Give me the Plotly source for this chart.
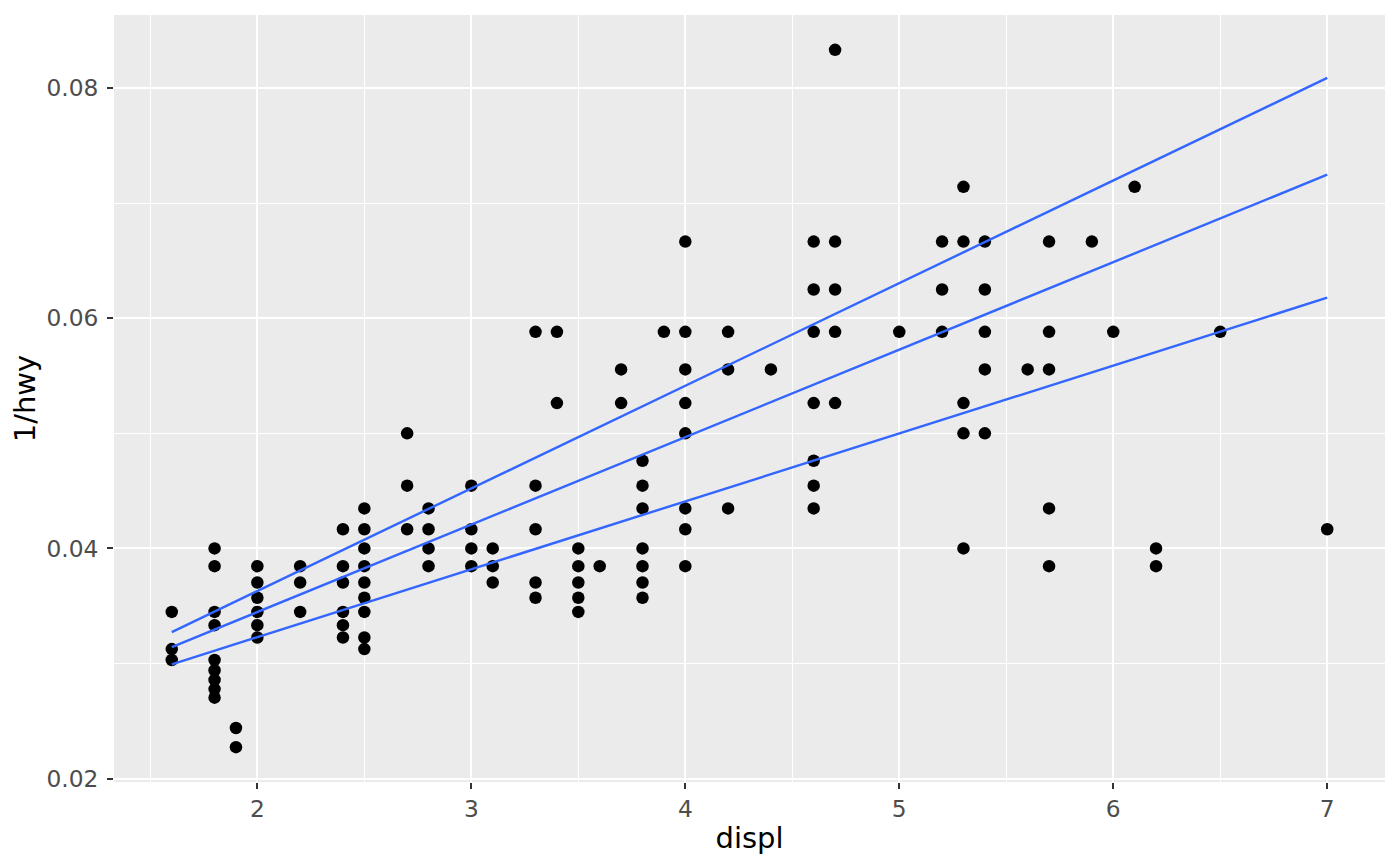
import plotly.graph_objects as go

# engine displacement (litres) and highway mpg, one entry per visible point
displ = [
    1.6, 1.6, 1.6,
    1.8, 1.8, 1.8, 1.8, 1.8, 1.8, 1.8, 1.8, 1.8,
    1.9, 1.9,
    2.0, 2.0, 2.0, 2.0, 2.0, 2.0,
    2.2, 2.2, 2.2,
    2.4, 2.4, 2.4, 2.4, 2.4, 2.4,
    2.5, 2.5, 2.5, 2.5, 2.5, 2.5, 2.5, 2.5, 2.5,
    2.7, 2.7, 2.7,
    2.8, 2.8, 2.8, 2.8,
    3.0, 3.0, 3.0, 3.0,
    3.1, 3.1, 3.1,
    3.3, 3.3, 3.3, 3.3, 3.3,
    3.4, 3.4,
    3.5, 3.5, 3.5, 3.5, 3.5,
    3.6,
    3.7, 3.7,
    3.8, 3.8, 3.8, 3.8, 3.8, 3.8, 3.8,
    3.9,
    4.0, 4.0, 4.0, 4.0, 4.0, 4.0, 4.0, 4.0,
    4.2, 4.2, 4.2,
    4.4,
    4.6, 4.6, 4.6, 4.6, 4.6, 4.6, 4.6,
    4.7, 4.7, 4.7, 4.7, 4.7,
    5.0,
    5.2, 5.2, 5.2,
    5.3, 5.3, 5.3, 5.3, 5.3,
    5.4, 5.4, 5.4, 5.4, 5.4,
    5.6,
    5.7, 5.7, 5.7, 5.7, 5.7,
    5.9,
    6.0,
    6.1,
    6.2, 6.2,
    6.5,
    7.0,
]
hwy = [
    29, 32, 33,
    25, 26, 29, 30, 33, 34, 35, 36, 37,
    41, 44,
    26, 27, 28, 29, 30, 31,
    26, 27, 29,
    24, 26, 27, 29, 30, 31,
    23, 24, 25, 26, 27, 28, 29, 31, 32,
    20, 22, 24,
    23, 24, 25, 26,
    22, 24, 25, 26,
    25, 26, 27,
    17, 22, 24, 27, 28,
    17, 19,
    25, 26, 27, 28, 29,
    26,
    18, 19,
    21, 22, 23, 25, 26, 27, 28,
    17,
    15, 17, 18, 19, 20, 23, 24, 26,
    17, 18, 23,
    18,
    15, 16, 17, 19, 21, 22, 23,
    12, 15, 16, 17, 19,
    17,
    15, 16, 17,
    14, 15, 19, 20, 25,
    15, 16, 17, 18, 20,
    18,
    15, 17, 18, 23, 26,
    15,
    17,
    14,
    25, 26,
    17,
    24,
]

# quantile regression lines of 1/hwy on displ
quantiles = [0.25, 0.5, 0.75]
intercepts = [0.02049, 0.019267, 0.018458]
slopes = [0.0059, 0.007602, 0.00892]

inv_hwy = [1 / h for h in hwy]
x_line = [min(displ), max(displ)]

fig = go.Figure()

fig.add_trace(go.Scatter(
    x=displ,
    y=inv_hwy,
    mode='markers',
    marker=dict(color='black', size=12.5, line=dict(width=0)),
    showlegend=False,
))

for q, a, b in zip(quantiles, intercepts, slopes):
    fig.add_trace(go.Scatter(
        x=x_line,
        y=[a + b * x for x in x_line],
        mode='lines',
        line=dict(color='#3366FF', width=2.4),
        name=f'q={q}',
        showlegend=False,
    ))

# page body keeps its default 8px margin, so the figure is 16px smaller
fig.update_layout(
    width=1384,
    height=850,
    margin=dict(l=106, r=7, t=7, b=76),
    plot_bgcolor='#EBEBEB',
    paper_bgcolor='white',
    font=dict(family='DejaVu Sans', color='black'),
)

fig.update_xaxes(
    range=[1.33, 7.27],
    tick0=2,
    dtick=1,
    ticks='outside',
    ticklen=6,
    tickwidth=2,
    tickcolor='#333333',
    tickfont=dict(size=23.3, color='#4D4D4D'),
    showgrid=True,
    gridcolor='white',
    gridwidth=2.4,
    minor=dict(tick0=1.5, dtick=0.5, showgrid=True, gridcolor='white',
               gridwidth=1.2, ticklen=0),
    zeroline=False,
    showline=False,
    title=dict(text='displ', font=dict(size=29), standoff=6),
)

fig.update_yaxes(
    range=[0.0197, 0.08636],
    tick0=0.02,
    dtick=0.02,
    tickformat='.2f',
    ticks='outside',
    ticklen=6,
    tickwidth=2,
    tickcolor='#333333',
    tickfont=dict(size=23.3, color='#4D4D4D'),
    ticklabelstandoff=4,
    showgrid=True,
    gridcolor='white',
    gridwidth=2.4,
    minor=dict(tick0=0.01, dtick=0.01, showgrid=True, gridcolor='white',
               gridwidth=1.2, ticklen=0),
    zeroline=False,
    showline=False,
    title=dict(text='1/hwy', font=dict(size=29), standoff=6),
)

fig.write_html("out.html")
